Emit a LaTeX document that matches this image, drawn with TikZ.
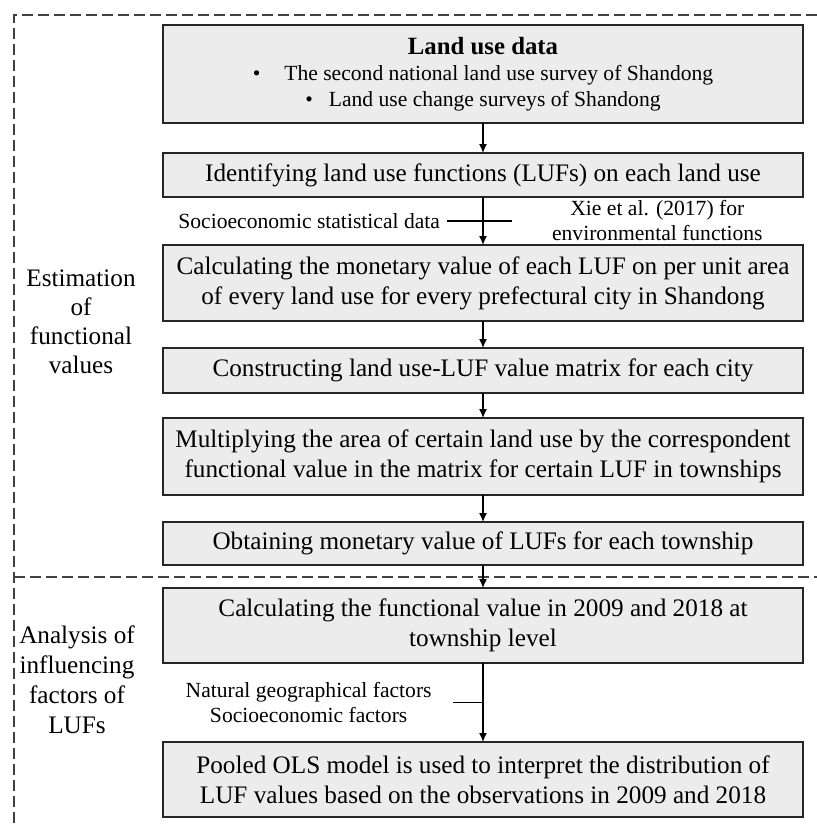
\documentclass[tikz,border=0pt]{standalone}
\usepackage{fontspec}
\setmainfont{Liberation Serif}
\usepackage{xcolor}
\usepackage{tikz}
\usetikzlibrary{positioning,calc,arrows.meta}

\begin{document}
\begin{tikzpicture}[node distance=12pt,
      box/.style={rectangle,draw=black!85,line width=0.8pt,fill=gray!15,outer sep=0pt,inner sep=2pt,minimum width=320pt,align=center,font=\fontsize{12.6}{15}\selectfont},
      lbl/.style={align=center,font=\fontsize{10.8}{12.5}\selectfont},
      side/.style={align=center,font=\fontsize{12.6}{14.5}\selectfont},
      arr/.style={->,>={Latex[length=4.5pt,width=4pt]},line width=0.7pt},
      sep/.style={dash pattern=on 5.5pt off 2.5pt,line width=0.7pt,black!75}]
      \useasboundingbox (0,0) rectangle (408.5pt,-412.5pt);
      % dashed frame of the two parts
      \draw[sep] (408.5pt,-7.5pt) -- (7pt,-7.5pt) -- (7pt,-412.5pt);
      \draw[sep] (7pt,-288.5pt) -- (408.5pt,-288.5pt);
      \node[side] (est) at (40.5pt,-161pt) {Estimation\\of\\functional\\values};
      \node[side,font=\fontsize{12.6}{15}\selectfont] (ana) at (38.5pt,-340pt) {Analysis of\\influencing\\factors of\\LUFs};
      % main steps
      \node[box,anchor=north,minimum height=49pt,font=\fontsize{10.8}{13}\selectfont] (data) at (241.5pt,-12.5pt)
        {{\fontsize{12.4}{13}\selectfont\bfseries Land use data}\\
         \textbullet\hspace{12pt}The second national land use survey of Shandong\\
         \textbullet\hspace{8pt}Land use change surveys of Shandong};
      \node[box,below=15pt of data,minimum height=22pt] (luf) {Identifying land use functions (LUFs) on each land use};
      \node[box,below=24pt of luf,minimum height=38pt] (calc) {Calculating the monetary value of each LUF on per unit area\\of every land use for every prefectural city in Shandong};
      \node[box,below=13.5pt of calc,minimum height=22.5pt] (matrix) {Constructing land use-LUF value matrix for each city};
      \node[box,below=12.5pt of matrix,minimum height=38.5pt] (multi) {Multiplying the area of certain land use by the correspondent\\functional value in the matrix for certain LUF in townships};
      \node[box,below=13.5pt of multi,minimum height=21.5pt] (town) {Obtaining monetary value of LUFs for each township};
      \node[box,below=11.5pt of town,minimum height=37.5pt] (year) {Calculating the functional value in 2009 and 2018 at\\township level};
      \node[box,below=39.5pt of year,minimum height=37.5pt] (ols) {Pooled OLS model is used to interpret the distribution of\\LUF values based on the observations in 2009 and 2018};
      % data sources
      \coordinate (j1) at ($(luf.south)!0.5!(calc.north)$);
      \coordinate[right=14.5pt of j1] (j1e);
      \node[lbl,left=18pt of j1] (soc) {Socioeconomic statistical data};
      \node[lbl,right=31pt of j1,inner ysep=1pt,yshift=0.5pt] (xie) {Xie et al. (2017) for\\environmental functions};
      \coordinate (j2) at ($(year.south)!0.5!(ols.north)$);
      \node[lbl,inner xsep=10.5pt,left=15pt of j2] (fac) {Natural geographical factors\\Socioeconomic factors};
      \draw[line width=0.7pt] (soc.east) -- (j1e);
      \draw[line width=0.7pt] (fac.east) -- (j2);
      % flow
      \draw[arr] (data) -- (luf);
      \draw[arr] (luf) -- (calc);
      \draw[arr] (calc) -- (matrix);
      \draw[arr] (matrix) -- (multi);
      \draw[arr] (multi) -- (town);
      \draw[arr] (town) -- (year);
      \draw[arr] (year) -- (ols);
\end{tikzpicture}
\end{document}
